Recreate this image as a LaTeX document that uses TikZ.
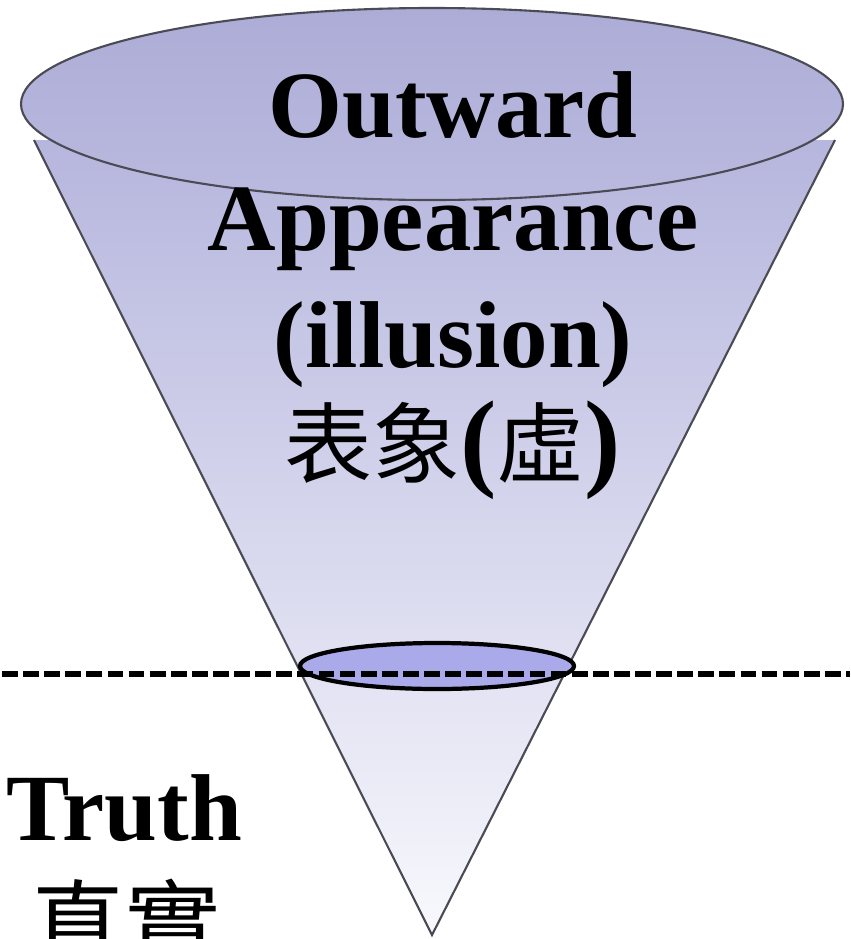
\documentclass[tikz,border=0pt]{standalone}
\usepackage{fontspec}
\setmainfont{Liberation Serif}
\newfontfamily\cjk{Noto Sans CJK TC}
\definecolor{conetop}{RGB}{182,182,222}
\definecolor{conebot}{RGB}{248,248,253}
\definecolor{mouthtop}{RGB}{172,172,214}
\definecolor{mouthbot}{RGB}{186,186,224}
\definecolor{slice}{RGB}{170,170,235}
\definecolor{rimgray}{RGB}{75,75,85}

\begin{document}
\begin{tikzpicture}[x=0.01cm, y=0.01cm,
  every node/.style={inner sep=0pt},
  bigword/.style={font=\fontsize{27}{32}\selectfont\bfseries, anchor=base},
  rim/.style={draw=rimgray, line width=0.6pt}]
  \useasboundingbox (0,0) rectangle (850,-939);

  % cone body
  \coordinate (tip) at (432,-935);
  \coordinate (lefttop) at (34,-140);
  \coordinate (righttop) at (835,-140);
  \shade[top color=conetop, bottom color=conebot] (lefttop) -- (tip) -- (righttop) -- cycle;
  \draw[rim] (lefttop) -- (tip) -- (righttop);

  % open top
  \shade[top color=mouthtop, bottom color=mouthbot] (432,-104) ellipse (411 and 96);
  \draw[rim] (432,-104) ellipse (411 and 96);

  % cut at the line
  \draw[line width=1.2pt, fill=slice] (437,-666) ellipse (137 and 23);
  \coordinate (lineL) at (2,-674);
  \coordinate (lineR) at (850,-674);
  \draw[line width=1.6pt, dash pattern=on 4.5pt off 1.5pt] (lineL) -- (lineR);

  \node[bigword] (outward) at (453,-137) {Outward};
  \node[bigword] (appear) at (453,-250) {Appearance};
  \node[bigword] (illusion) at (453,-367) {(illusion)};
  \node[anchor=base, font=\fontsize{31}{36}\selectfont\bfseries] (biaoxiang) at (453,-476)
    {{\cjk\mdseries\fontsize{25}{30}\selectfont 表象}({\cjk\mdseries\fontsize{25}{30}\selectfont 虛})};

  \node[bigword] (truth) at (124,-840) {Truth};
  \node[anchor=north, font=\cjk\fontsize{27}{32}\selectfont] (zhenshi) at (125,-878) {真實};
\end{tikzpicture}
\end{document}
